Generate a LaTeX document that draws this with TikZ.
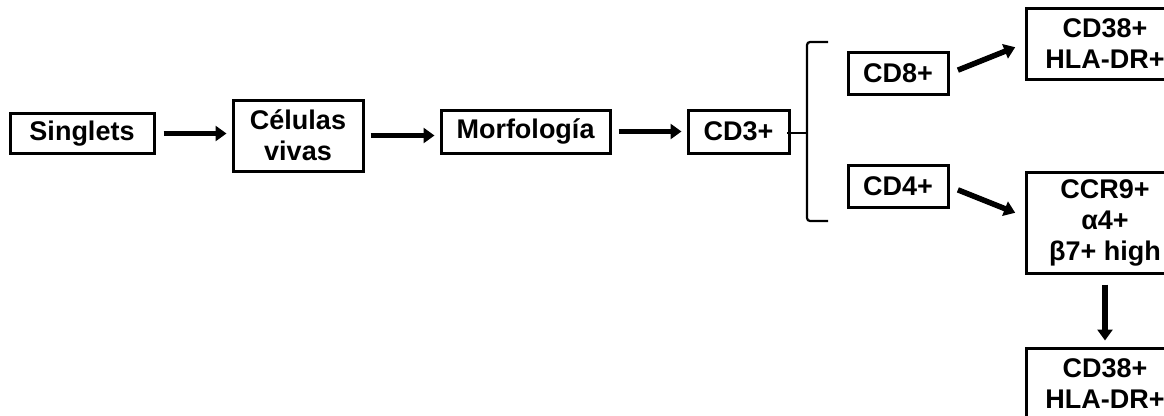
\documentclass[tikz,border=0pt]{standalone}
\usepackage{fontspec}
\setmainfont{Liberation Sans}
\usepackage{tikz}
\usetikzlibrary{positioning, arrows.meta}

\tikzset{
  gatebox/.style={draw, line width=3pt, align=center, inner sep=0pt,
    font=\fontsize{27}{31}\selectfont\bfseries},
  flow/.style={line width=5.5pt, -{Triangle[length=11pt,width=15pt]}},
  brace/.style={line width=2.2pt, rounded corners=3pt}
}

\begin{document}
\begin{tikzpicture}[x=1pt,y=-1pt,>=Latex]
        \clip (0,0) rectangle (1164,415);

        % Nodes
        \node (sing) [gatebox, minimum width=144pt, minimum height=40pt] at (82,133.5) {Singlets};
        \node (viva) [gatebox, right=76pt of sing, yshift=-2pt, minimum width=130pt, minimum height=71pt] {Células\\vivas};
        \node (morf) [gatebox, right=75pt of viva, yshift=4pt, minimum width=169pt, minimum height=43pt] {Morfología};
        \node (cd3) [gatebox, right=75pt of morf, minimum width=101pt, minimum height=43pt] {CD3+};
        \node (cd8) [gatebox, right=56pt of cd3, yshift=58pt, minimum width=100pt, minimum height=42pt] {CD8+};
        \node (cd4) [gatebox, right=56pt of cd3, yshift=-55pt, minimum width=100pt, minimum height=42pt] {CD4+};
        \node (act8) [gatebox, right=75pt of cd8, yshift=30pt, minimum width=158pt, minimum height=71pt] {CD38+\\HLA-DR+};
        \node (ccr9) [gatebox, right=75pt of cd4, yshift=-36pt, minimum width=158pt, minimum height=101pt] {CCR9+\\α4+\\β7+ high};
        \node (act4) [gatebox, below=72pt of ccr9, minimum width=158pt, minimum height=71pt] {CD38+\\HLA-DR+};

        % Brace
        \coordinate (bs) at (787,133);
        \coordinate (bm) at (807,133);
        \coordinate (bt) at (828,42);
        \coordinate (bb) at (828,221);
        \draw[brace] (bt) -| (bm) |- (bb);
        \draw[brace] (bs) -- (bm);

        % Arrows
        \draw[flow, shorten <=8pt, shorten >=5pt] (sing) -- (sing -| viva.west);
        \draw[flow, shorten <=6pt, shorten >=5pt] (viva) -- (viva -| morf.west);
        \draw[flow, shorten <=7pt, shorten >=5pt] (morf) -- (cd3);
        \draw[flow, shorten <=9pt, shorten >=10pt] (cd8.east) -- (act8.west);
        \draw[flow, shorten <=9pt, shorten >=10pt] (cd4.east) -- ([yshift=6pt]ccr9.west);
        \draw[flow, shorten <=10pt, shorten >=6pt] (ccr9) -- (act4);

    \end{tikzpicture}
\end{document}
